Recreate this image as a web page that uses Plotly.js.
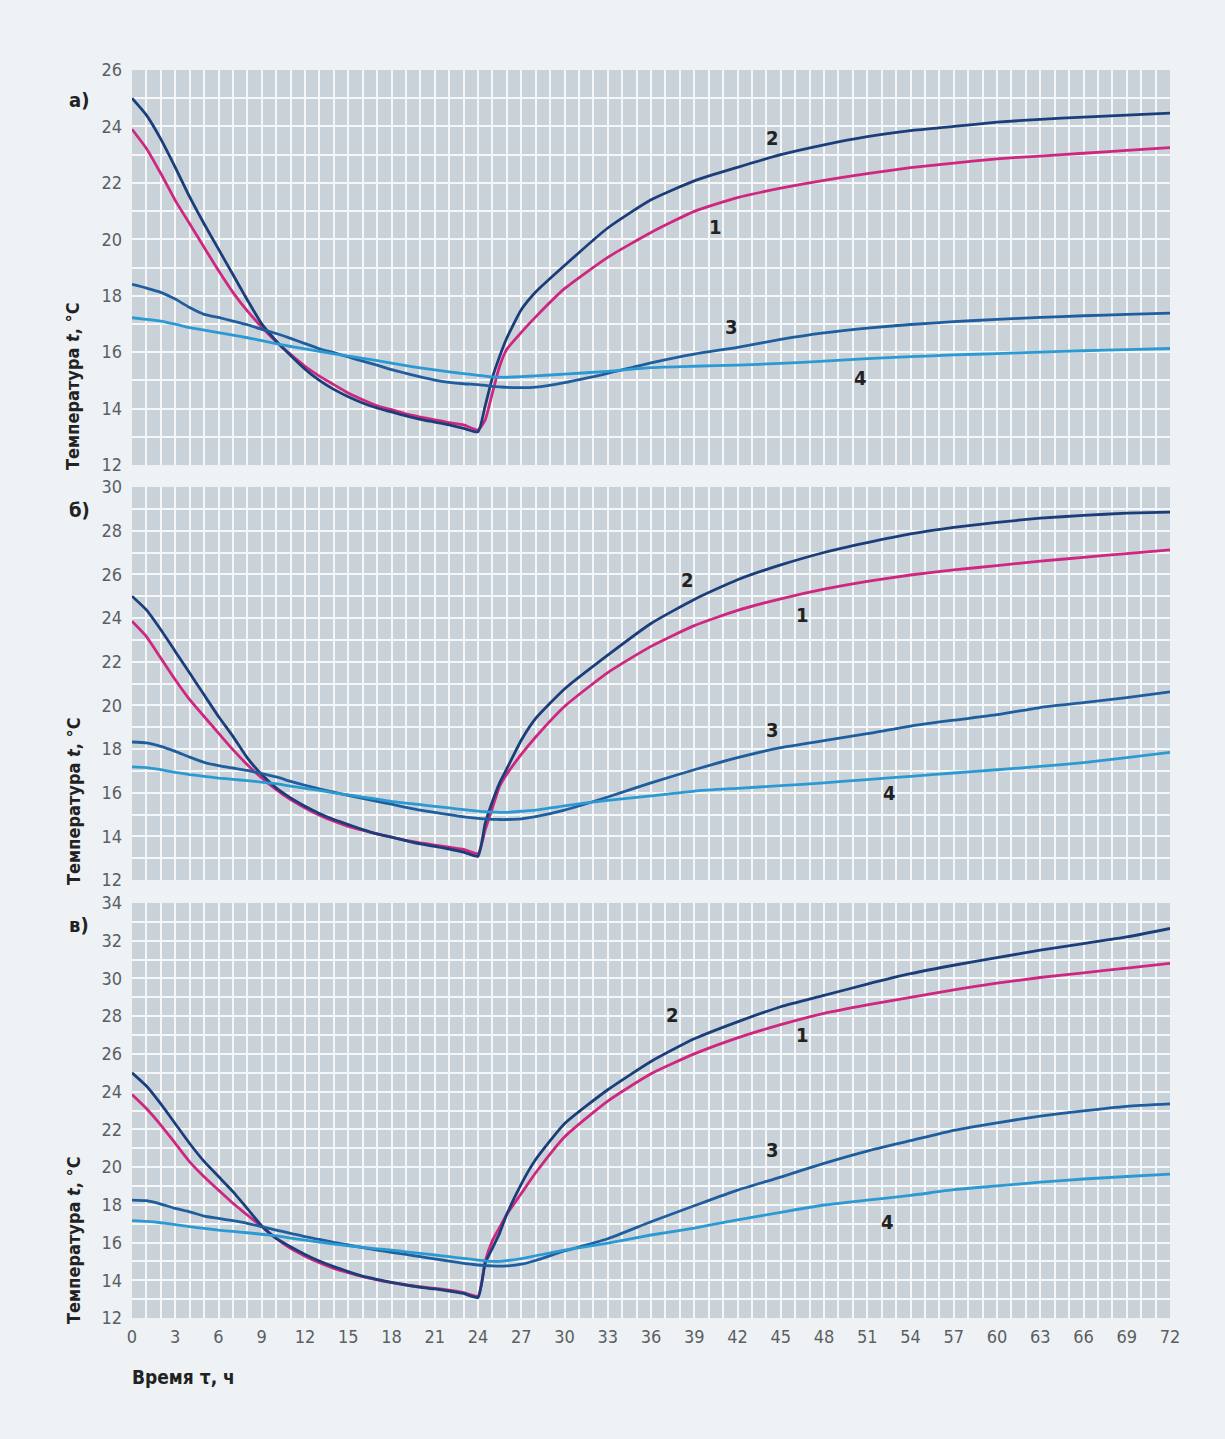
<!DOCTYPE html>
<html>
<head>
<meta charset="utf-8">
<script src="https://cdn.plot.ly/plotly-3.0.1.min.js"></script>
<style>
  html, body { margin: 0; padding: 0; background: #eef2f5; }
  #chart { width: 1225px; height: 1439px; }
</style>
</head>
<body>
<div id="chart"></div>
<script>
// ---- Data (time, h) ----
const hours = [0,1,2,3,4,5,6,7,8,9,10,11,12,13,14,15,16,17,18,19,20,21,22,23,24,
  24.5,25,25.5,26,27,28,30,
  33,36,39,42,45,48,51,54,57,60,63,66,69,72];

// Panel а)
const a1 = [23.9,23.22,22.33,21.38,20.55,19.72,18.89,18.12,17.46,16.89,16.37,15.92,15.5,15.15,14.85,14.55,14.31,14.1,13.96,13.81,13.7,13.6,13.5,13.42,13.24,
  13.6,14.56,15.5,16.1,16.7,17.25,18.25,
  19.36,20.24,20.99,21.48,21.81,22.09,22.33,22.54,22.7,22.85,22.95,23.05,23.15,23.25];
const a2 = [25.0,24.4,23.55,22.55,21.5,20.55,19.65,18.75,17.85,17.0,16.4,15.88,15.4,15.0,14.68,14.42,14.2,14.02,13.88,13.74,13.62,13.52,13.42,13.3,13.18,
  14.1,15.1,15.85,16.5,17.5,18.13,19.07,
  20.4,21.4,22.07,22.55,23.0,23.35,23.64,23.85,24.0,24.15,24.25,24.33,24.4,24.47];
const a3 = [18.4,18.27,18.12,17.88,17.58,17.34,17.23,17.1,16.97,16.81,16.66,16.49,16.3,16.12,15.98,15.83,15.68,15.54,15.38,15.25,15.12,15.01,14.93,14.88,14.85,
  14.82,14.79,14.77,14.75,14.74,14.76,14.92,
  15.25,15.62,15.93,16.17,16.45,16.68,16.85,16.98,17.08,17.16,17.23,17.29,17.34,17.38];
const a4 = [17.22,17.16,17.1,16.99,16.87,16.78,16.69,16.6,16.51,16.41,16.3,16.2,16.12,16.03,15.94,15.86,15.78,15.7,15.61,15.52,15.44,15.37,15.3,15.24,15.18,
  15.15,15.12,15.11,15.11,15.13,15.16,15.22,
  15.32,15.45,15.5,15.54,15.6,15.68,15.77,15.84,15.9,15.95,16.0,16.05,16.09,16.13];

// Panel б)
const b1 = [23.85,23.15,22.16,21.17,20.26,19.49,18.73,17.97,17.28,16.67,16.14,15.68,15.3,14.97,14.69,14.46,14.28,14.11,13.96,13.82,13.7,13.6,13.5,13.4,13.21,
  14.3,15.3,16.3,16.85,17.75,18.55,19.95,
  21.5,22.7,23.65,24.35,24.88,25.32,25.68,25.97,26.2,26.4,26.6,26.78,26.95,27.12];
const b2 = [25.0,24.37,23.46,22.47,21.48,20.48,19.49,18.58,17.59,16.83,16.22,15.76,15.38,15.05,14.77,14.54,14.31,14.11,13.96,13.8,13.65,13.54,13.42,13.28,13.09,
  14.6,15.6,16.45,17.1,18.4,19.4,20.75,
  22.3,23.75,24.85,25.75,26.43,27.0,27.45,27.85,28.15,28.38,28.57,28.7,28.8,28.85];
const b3 = [18.32,18.28,18.12,17.89,17.63,17.39,17.24,17.13,17.02,16.87,16.72,16.52,16.34,16.17,16.02,15.88,15.74,15.6,15.47,15.33,15.2,15.1,14.99,14.89,14.82,
  14.8,14.78,14.77,14.77,14.8,14.9,15.2,
  15.8,16.45,17.05,17.6,18.06,18.38,18.7,19.05,19.32,19.57,19.9,20.12,20.35,20.62];
const b4 = [17.18,17.15,17.05,16.93,16.83,16.75,16.67,16.61,16.55,16.48,16.41,16.3,16.2,16.1,15.99,15.9,15.8,15.7,15.6,15.52,15.45,15.37,15.3,15.22,15.15,
  15.13,15.11,15.1,15.1,15.15,15.2,15.4,
  15.65,15.85,16.07,16.2,16.32,16.45,16.6,16.75,16.9,17.05,17.2,17.38,17.6,17.85];

// Panel в)
const c1 = [23.85,23.11,22.23,21.26,20.28,19.49,18.78,18.08,17.46,16.84,16.22,15.69,15.28,14.93,14.63,14.4,14.19,14.02,13.87,13.75,13.66,13.57,13.48,13.34,13.16,
  15.0,16.1,16.8,17.5,18.6,19.7,21.6,
  23.5,24.95,26.0,26.85,27.55,28.15,28.6,29.0,29.4,29.75,30.05,30.3,30.55,30.8];
const c2 = [25.0,24.3,23.35,22.3,21.25,20.3,19.5,18.7,17.8,16.88,16.22,15.78,15.37,15.02,14.72,14.46,14.22,14.05,13.89,13.75,13.62,13.54,13.43,13.3,13.09,
  14.9,15.7,16.5,17.5,19.1,20.4,22.3,
  24.1,25.6,26.8,27.7,28.5,29.1,29.7,30.25,30.7,31.1,31.5,31.85,32.2,32.65];
const c3 = [18.25,18.22,18.04,17.81,17.63,17.4,17.28,17.16,17.02,16.84,16.66,16.49,16.31,16.17,16.01,15.87,15.73,15.6,15.48,15.37,15.25,15.13,15.02,14.9,14.81,
  14.78,14.76,14.75,14.76,14.85,15.05,15.55,
  16.2,17.1,17.95,18.78,19.47,20.2,20.85,21.4,21.95,22.35,22.7,22.98,23.22,23.35];
const c4 = [17.16,17.12,17.05,16.95,16.84,16.75,16.66,16.59,16.52,16.44,16.35,16.24,16.13,16.02,15.92,15.83,15.75,15.67,15.6,15.51,15.43,15.34,15.25,15.16,15.07,
  15.03,15.0,15.0,15.04,15.15,15.3,15.6,
  15.97,16.4,16.77,17.2,17.6,17.99,18.25,18.5,18.8,19.0,19.2,19.37,19.5,19.63];

// Curve number labels (hour, temperature) per panel
const curveNames = ['1','2','3','4'];
const labelsA = {x: [40.5, 44.45, 41.6, 50.5], y: [20.44, 23.58, 16.88, 15.1]};
const labelsB = {x: [46.53, 38.56, 44.45, 52.57], y: [24.14, 25.75, 18.88, 16.0]};
const labelsC = {x: [46.53, 37.52, 44.45, 52.43], y: [27.0, 28.06, 20.9, 17.09]};

const panelNames = ['а)', 'б)', 'в)'];
const yTitle = 'Температура <i>t</i>, °C';
const xTitle = 'Время τ, ч';

// ---- Styling ----
const colors = ['#cf2680', '#1b3e7a', '#1f5e9e', '#2b9ad3'];
const fam = 'DejaVu Sans Condensed, Liberation Sans Narrow, sans-serif';
const tickFont = {family: fam, size: 18, color: '#5b5f63'};

const panels = [
  {data: [a1, a2, a3, a4], xa: 'x', ya: 'y', labels: labelsA},
  {data: [b1, b2, b3, b4], xa: 'x2', ya: 'y2', labels: labelsB},
  {data: [c1, c2, c3, c4], xa: 'x3', ya: 'y3', labels: labelsC}
];

const traces = [];
const annotations = [];
panels.forEach((p) => {
  p.data.forEach((arr, ci) => {
    traces.push({
      x: hours, y: arr, xaxis: p.xa, yaxis: p.ya,
      type: 'scatter', mode: 'lines',
      line: {color: colors[ci], width: 2.8, shape: 'spline', smoothing: 0.5},
      showlegend: false, hoverinfo: 'skip'
    });
    annotations.push({
      xref: p.xa, yref: p.ya, x: p.labels.x[ci], y: p.labels.y[ci],
      text: '<b>' + curveNames[ci] + '</b>', showarrow: false,
      font: {family: fam, size: 20, color: '#222222'}
    });
  });
});

// plot area: top 70, bottom 1318 (height 1248); left 132, right 1170
const H = 1248;
const toPaperY = (Y) => (1318 - Y) / H;
const toPaperX = (X) => (X - 132) / 1038;

const domA = [toPaperY(465), 1];
const domB = [toPaperY(880), toPaperY(487)];
const domC = [0, toPaperY(903)];

// Panel letters
const letterY = [100, 510, 925];
letterY.forEach((Y, i) => {
  annotations.push({
    xref: 'paper', yref: 'paper', x: toPaperX(79), y: toPaperY(Y),
    xanchor: 'center', yanchor: 'middle',
    text: '<b>' + panelNames[i] + '</b>', showarrow: false,
    font: {family: fam, size: 20, color: '#222222'}
  });
});

// Y titles (rotated)
const titleBottoms = [472, 887, 1326];
titleBottoms.forEach((Y) => {
  annotations.push({
    xref: 'paper', yref: 'paper', x: toPaperX(73), y: toPaperY(Y),
    xanchor: 'center', yanchor: 'bottom', textangle: -90,
    text: '<b>' + yTitle + '</b>', showarrow: false,
    font: {family: fam, size: 18, color: '#222222'}
  });
});

// X title
annotations.push({
  xref: 'paper', yref: 'paper', x: toPaperX(130), y: toPaperY(1377),
  xanchor: 'left', yanchor: 'middle',
  text: '<b>' + xTitle + '</b>', showarrow: false,
  font: {family: fam, size: 19, color: '#222222'}
});

const gridColor = '#f4f6f8';
function xAxis(anchor, showLabels) {
  return {
    domain: [0, 1], anchor: anchor, range: [0, 72],
    dtick: 3, tick0: 0, showticklabels: showLabels, ticks: '',
    tickfont: tickFont, ticklabelstandoff: 6,
    showgrid: true, gridcolor: gridColor, gridwidth: 2,
    minor: {dtick: 1, showgrid: true, gridcolor: gridColor, gridwidth: 2},
    zeroline: false, showline: false, fixedrange: true
  };
}
function yAxis(anchor, dom, range) {
  return {
    domain: dom, anchor: anchor, range: range,
    dtick: 2, tick0: 12, ticks: '', tickfont: tickFont, ticklabelstandoff: 9,
    showgrid: true, gridcolor: gridColor, gridwidth: 2,
    minor: {dtick: 1, showgrid: true, gridcolor: gridColor, gridwidth: 2},
    zeroline: false, showline: false, fixedrange: true
  };
}

const layout = {
  width: 1225, height: 1439,
  margin: {l: 132, r: 55, t: 70, b: 121},
  paper_bgcolor: '#eef2f5', plot_bgcolor: '#cad2d9',
  showlegend: false,
  xaxis: xAxis('y', false),
  yaxis: yAxis('x', domA, [12, 26]),
  xaxis2: xAxis('y2', false),
  yaxis2: yAxis('x2', domB, [12, 30]),
  xaxis3: xAxis('y3', true),
  yaxis3: yAxis('x3', domC, [12, 34]),
  annotations: annotations
};

Plotly.newPlot('chart', traces, layout, {staticPlot: true, displayModeBar: false});
</script>
</body>
</html>
